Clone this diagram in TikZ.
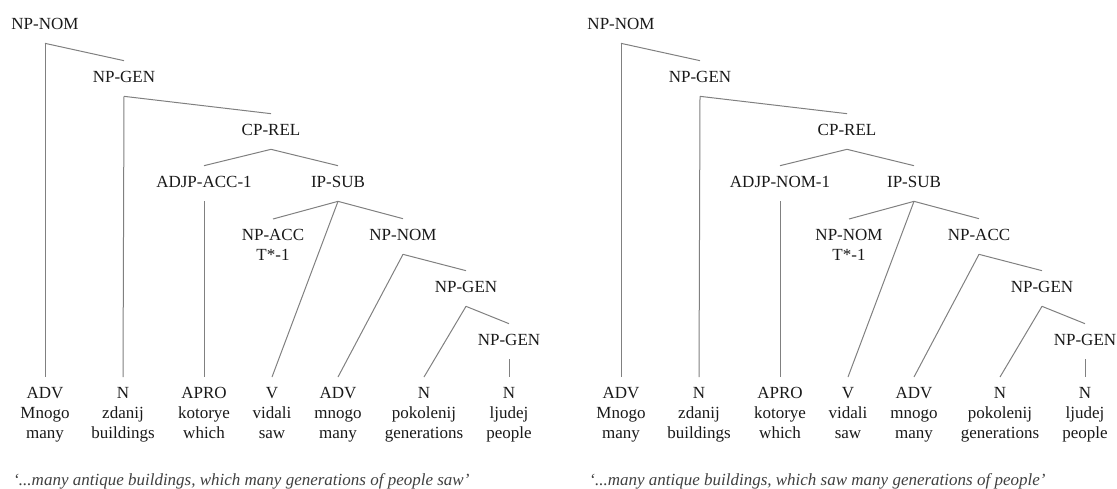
\documentclass[tikz,border=0pt]{standalone}
\usepackage{fontspec}
\setmainfont{LiberationSerif}[Extension=.ttf,UprightFont=*-Regular,ItalicFont=*-Italic,BoldFont=*-Bold]

\begin{document}
\begin{tikzpicture}[
  x=0.6pt, y=-0.6pt,
  font=\rmfamily\fontsize{10.2}{12}\selectfont,
  text=black!90,
  tag/.style={inner xsep=0pt,inner ysep=5pt,text height=8pt,text depth=3pt},
  word/.style={inner xsep=0pt,inner ysep=6pt,align=center,anchor=north},
  branch/.style={draw=gray,line width=.6pt},
  gloss/.style={font=\rmfamily\fontsize{10.2}{12}\selectfont\itshape,text=black!75,inner sep=0pt,anchor=base west}
  ]
  \useasboundingbox (0,0) rectangle (1117,488);

  \foreach \side/\dx/\adjc/\trc/\objc/\rest in {a/0/ACC/ACC/NOM/{which many generations of people saw},b/576/NOM/NOM/ACC/{which saw many generations of people}}
  {
  %phrases
  \node (NPNOM_\side) [tag] at(\dx+45,25.5) {NP-NOM};
  \node (NPGEN_\side) [tag] at(\dx+124,78.5) {NP-GEN};
  \node (CPREL_\side) [tag] at(\dx+271,131.5) {CP-REL};
  \node (ADJP_\side) [tag] at(\dx+204,183.5) {ADJP-\adjc-1};
  \node (IPSUB_\side) [tag] at(\dx+338,183.5) {IP-SUB};
  \node (trace_\side) [word] at(\dx+273,219) {NP-\trc\\T*-1};
  \node (NPobj_\side) [tag] at(\dx+403,236.5) {NP-\objc};
  \node (NPGEN2_\side) [tag] at(\dx+466,288.5) {NP-GEN};
  \node (NPGEN3_\side) [tag] at(\dx+509,341.5) {NP-GEN};

  %words
  \foreach \i/\x/\w in {1/45/{ADV\\Mnogo\\many},2/123/{N\\zdanij\\buildings},3/204/{APRO\\kotorye\\which},4/272/{V\\vidali\\saw},5/338/{ADV\\mnogo\\many},6/424/{N\\pokolenij\\generations},7/509/{N\\ljudej\\people}}
    \node (W_\side_\i) [word] at(\dx+\x,377) {\w};

  %branches
  \draw[branch] (NPNOM_\side.south) -- (NPGEN_\side.north);
  \draw[branch] (NPNOM_\side.south) -- (W_\side_1.north);
  \draw[branch] (NPGEN_\side.south) -- (CPREL_\side.north);
  \draw[branch] (NPGEN_\side.south) -- (W_\side_2.north);
  \draw[branch] (CPREL_\side.south) -- (ADJP_\side.north);
  \draw[branch] (CPREL_\side.south) -- (IPSUB_\side.north);
  \draw[branch] (ADJP_\side.south) -- (W_\side_3.north);
  \draw[branch] (IPSUB_\side.south) -- (trace_\side.north);
  \draw[branch] (IPSUB_\side.south) -- (W_\side_4.north);
  \draw[branch] (IPSUB_\side.south) -- (NPobj_\side.north);
  \draw[branch] (NPobj_\side.south) -- (W_\side_5.north);
  \draw[branch] (NPobj_\side.south) -- (NPGEN2_\side.north);
  \draw[branch] (NPGEN2_\side.south) -- (W_\side_6.north);
  \draw[branch] (NPGEN2_\side.south) -- (NPGEN3_\side.north);
  \draw[branch] (NPGEN3_\side.south) -- (W_\side_7.north);

  \node (gloss_\side) [gloss] at(\dx+13,485) {‘...many antique buildings, \rest’};
  }
\end{tikzpicture}
\end{document}
